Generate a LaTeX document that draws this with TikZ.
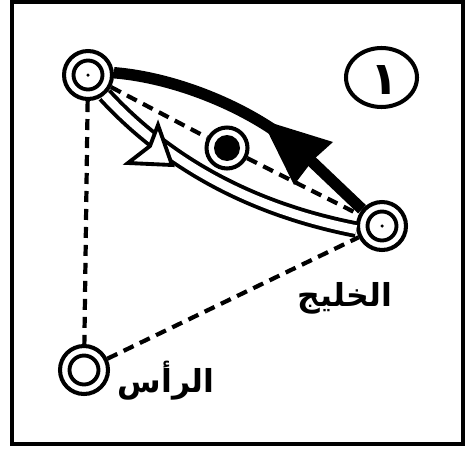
\documentclass[tikz,border=0pt]{standalone}
\usepackage{fontspec}
\usetikzlibrary{shapes.geometric}
\newfontfamily\arabicfont[Script=Arabic]{DejaVu Sans}
\TeXXeTstate=1
\begin{document}
\begin{tikzpicture}[x=0.02cm,y=-0.02cm,
  station/.style={circle,draw,line width=2.3pt,minimum size=0.96cm,inner sep=0pt},
  ballring/.style={circle,draw,line width=2.3pt,minimum size=0.82cm,inner sep=0pt},
  dashline/.style={line width=2.4pt,dash pattern=on 0.22cm off 0.14cm},
  runline/.style={line width=6.5pt},
  passline/.style={line width=2.2pt,double=white,double distance=5pt},
  label/.style={font=\arabicfont\bfseries\fontsize{18pt}{22pt}\selectfont,inner sep=0pt}]
\useasboundingbox (0,0) rectangle (469,450);
\draw[line width=1.8pt] (12,2) rectangle (463,444);
% stations
\node[station] (A) at (88,75) {};
\node[station] (B) at (382,226) {};
\node[station] (C) at (84,370) {};
\node[ballring] (D) at (227,148) {};
\foreach \n in {A,B,C} \draw[line width=2.2pt] (\n.center) circle (0.29cm);
\fill (A.center) circle (0.035cm);
\fill (B.center) circle (0.035cm);
\fill (D.center) circle (0.26cm);
% number
\node[draw,ellipse,line width=2.3pt,minimum width=1.42cm,minimum height=1.18cm,inner sep=0pt] (N) at (381.5,77.5) {};
\node[font=\arabicfont\bfseries\fontsize{26pt}{28pt}\selectfont,inner sep=0pt] (Nt) at (384,80) {\beginR ١\endR};
% dashed connectors
\draw[dashline] (A) -- (C);
\draw[dashline] (A) -- (D);
\draw[dashline] (D) -- (B);
\draw[dashline] (C) -- (B);
% pass (double line) A -> B
\draw[passline] (A.-50) .. controls (160,155) and (240,207) .. (B.188);
\draw[line width=2.2pt,fill=white,line join=miter] (158,125) -- (150,146) -- (128,163) -- (172,165) -- cycle;
% run (thick) B -> A
\draw[runline] (B.140) -- (305,155) .. controls (260,112) and (180,78) .. (A.5);
\fill (262,120) -- (333,142) -- (313,160) -- (294,185) -- cycle;
% labels
\node[label] (gulf) at (345,298) {\beginR الخليج\endR};
\node[label] (head) at (166,381) {\beginR الرأس\endR};
\end{tikzpicture}
\end{document}
